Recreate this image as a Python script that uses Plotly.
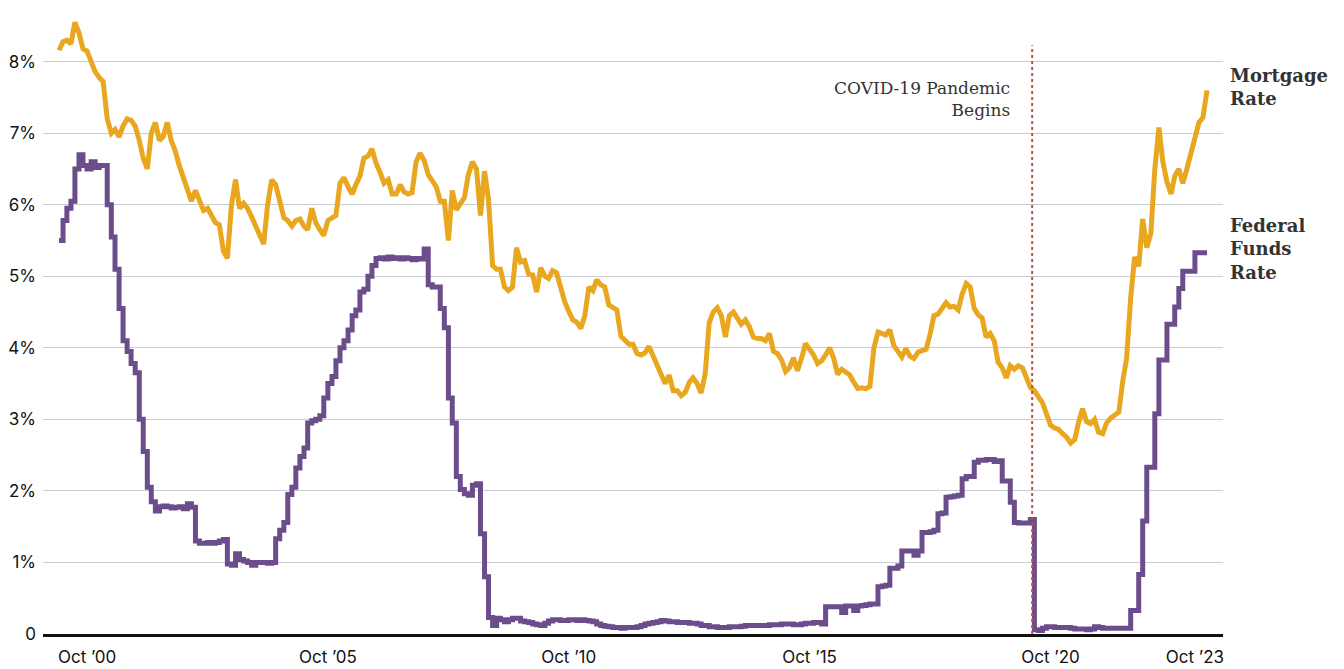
import pandas as pd
import plotly.graph_objects as go

# monthly readings, Jan 2000 .. Nov 2023
months = pd.date_range("2000-01-01", "2023-11-01", freq="MS")

mortgage_rate = [
    8.16, 8.28, 8.30, 8.25, 8.55, 8.40, 8.18, 8.15, 8.00, 7.86, 7.78, 7.72,  # 2000
    7.20, 7.00, 7.05, 6.95, 7.10, 7.20, 7.18, 7.10, 6.90, 6.65, 6.50, 7.00,  # 2001
    7.15, 6.90, 6.95, 7.15, 6.90, 6.75, 6.55, 6.38, 6.22, 6.05, 6.20, 6.05,  # 2002
    5.92, 5.95, 5.85, 5.75, 5.72, 5.35, 5.25, 6.00, 6.35, 5.95, 6.02, 5.95,  # 2003
    5.83, 5.69, 5.60, 5.45, 6.00, 6.35, 6.28, 6.05, 5.82, 5.78, 5.70, 5.78,  # 2004
    5.80, 5.70, 5.65, 5.95, 5.75, 5.65, 5.57, 5.78, 5.82, 5.85, 6.30, 6.38,  # 2005
    6.25, 6.15, 6.28, 6.40, 6.65, 6.68, 6.78, 6.58, 6.45, 6.30, 6.35, 6.15,  # 2006
    6.15, 6.28, 6.18, 6.15, 6.17, 6.60, 6.72, 6.62, 6.42, 6.32, 6.25, 6.05,  # 2007
    6.05, 5.50, 6.20, 5.93, 6.00, 6.10, 6.42, 6.60, 6.50, 5.85, 6.47, 6.07,  # 2008
    5.15, 5.10, 5.10, 4.85, 4.80, 4.85, 5.40, 5.20, 5.22, 5.03, 5.02, 4.78,  # 2009
    5.12, 5.00, 4.97, 5.08, 5.05, 4.83, 4.65, 4.51, 4.39, 4.36, 4.27, 4.45,  # 2010
    4.85, 4.80, 4.95, 4.88, 4.85, 4.60, 4.56, 4.53, 4.16, 4.10, 4.05, 4.05,  # 2011
    3.92, 3.90, 3.93, 4.02, 3.90, 3.74, 3.63, 3.50, 3.62, 3.40, 3.40, 3.33,  # 2012
    3.38, 3.52, 3.58, 3.50, 3.37, 3.64, 4.35, 4.50, 4.56, 4.45, 4.15, 4.45,  # 2013
    4.50, 4.40, 4.33, 4.39, 4.30, 4.15, 4.13, 4.13, 4.10, 4.20, 3.95, 3.92,  # 2014
    3.83, 3.67, 3.72, 3.86, 3.68, 3.85, 4.06, 3.98, 3.90, 3.78, 3.82, 3.90,  # 2015
    4.00, 3.85, 3.63, 3.70, 3.65, 3.62, 3.52, 3.43, 3.44, 3.43, 3.46, 4.00,  # 2016
    4.22, 4.20, 4.18, 4.25, 4.03, 3.95, 3.87, 3.99, 3.88, 3.85, 3.94, 3.96,  # 2017
    3.98, 4.20, 4.45, 4.47, 4.56, 4.63, 4.57, 4.58, 4.53, 4.75, 4.90, 4.85,  # 2018
    4.55, 4.46, 4.42, 4.15, 4.20, 4.10, 3.80, 3.72, 3.58, 3.75, 3.70, 3.75,  # 2019
    3.72, 3.60, 3.45, 3.40, 3.30, 3.23, 3.08, 2.92, 2.88, 2.86, 2.80, 2.75,  # 2020
    2.67, 2.72, 2.95, 3.15, 2.97, 2.94, 3.00, 2.82, 2.80, 2.95, 3.02, 3.05,  # 2021
    3.10, 3.55, 3.85, 4.70, 5.27, 5.14, 5.80, 5.40, 5.60, 6.50, 7.08, 6.60,  # 2022
    6.32, 6.15, 6.40, 6.50, 6.30, 6.50, 6.70, 6.92, 7.15, 7.22, 7.60,        # 2023
]

fed_funds_rate = [
    5.50, 5.78, 5.95, 6.05, 6.50, 6.70, 6.55, 6.50, 6.60, 6.52, 6.55, 6.55,  # 2000
    6.00, 5.55, 5.10, 4.55, 4.10, 3.95, 3.78, 3.65, 3.00, 2.55, 2.05, 1.85,  # 2001
    1.72, 1.78, 1.79, 1.78, 1.76, 1.77, 1.78, 1.75, 1.82, 1.77, 1.30, 1.27,  # 2002
    1.27, 1.28, 1.27, 1.28, 1.30, 1.32, 0.98, 0.96, 1.12, 1.04, 1.02, 1.00,  # 2003
    0.96, 1.00, 1.00, 1.00, 0.99, 1.00, 1.33, 1.45, 1.56, 1.95, 2.05, 2.32,  # 2004
    2.48, 2.60, 2.95, 2.98, 3.00, 3.05, 3.30, 3.50, 3.60, 3.82, 4.00, 4.10,  # 2005
    4.25, 4.45, 4.53, 4.78, 4.82, 5.00, 5.15, 5.25, 5.26, 5.24, 5.27, 5.25,  # 2006
    5.26, 5.24, 5.26, 5.25, 5.23, 5.25, 5.24, 5.38, 4.88, 4.85, 4.85, 4.55,  # 2007
    4.28, 3.30, 2.95, 2.20, 2.02, 1.96, 1.94, 2.08, 2.10, 1.40, 0.80, 0.23,  # 2008
    0.12, 0.22, 0.20, 0.17, 0.20, 0.22, 0.22, 0.18, 0.17, 0.16, 0.14, 0.13,  # 2009
    0.12, 0.15, 0.18, 0.20, 0.20, 0.19, 0.19, 0.20, 0.20, 0.19, 0.20, 0.19,  # 2010
    0.18, 0.17, 0.14, 0.12, 0.11, 0.10, 0.09, 0.09, 0.08, 0.09, 0.09, 0.09,  # 2011
    0.10, 0.12, 0.14, 0.15, 0.16, 0.17, 0.19, 0.18, 0.17, 0.17, 0.16, 0.16,  # 2012
    0.16, 0.15, 0.15, 0.14, 0.12, 0.12, 0.10, 0.10, 0.09, 0.09, 0.09, 0.10,  # 2013
    0.10, 0.10, 0.11, 0.12, 0.12, 0.12, 0.12, 0.12, 0.12, 0.13, 0.13, 0.13,  # 2014
    0.14, 0.14, 0.14, 0.13, 0.13, 0.14, 0.15, 0.15, 0.16, 0.16, 0.14, 0.38,  # 2015
    0.38, 0.38, 0.38, 0.30, 0.39, 0.39, 0.33, 0.39, 0.40, 0.41, 0.42, 0.42,  # 2016
    0.66, 0.67, 0.68, 0.92, 0.92, 0.95, 1.16, 1.16, 1.16, 1.10, 1.16, 1.42,  # 2017
    1.42, 1.43, 1.45, 1.68, 1.69, 1.91, 1.92, 1.93, 1.94, 2.17, 2.20, 2.20,  # 2018
    2.40, 2.43, 2.43, 2.44, 2.44, 2.41, 2.42, 2.14, 2.14, 1.84, 1.56, 1.55,  # 2019
    1.55, 1.55, 1.60, 0.06, 0.05, 0.08, 0.10, 0.10, 0.09, 0.09, 0.09, 0.09,  # 2020
    0.08, 0.07, 0.07, 0.07, 0.06, 0.07, 0.10, 0.09, 0.08, 0.08, 0.08, 0.08,  # 2021
    0.08, 0.08, 0.08, 0.33, 0.33, 0.83, 1.58, 2.33, 2.33, 3.08, 3.83, 3.83,  # 2022
    4.33, 4.33, 4.57, 4.83, 5.07, 5.07, 5.07, 5.33, 5.33, 5.33, 5.33,        # 2023
]

covid_date = "2020-03-15"
tick_dates = ["2000-08-01", "2005-08-01", "2010-08-01", "2015-08-01", "2020-08-01", "2023-08-01"]
tick_labels = ["Oct \u201900", "Oct \u201905", "Oct \u201910", "Oct \u201915", "Oct \u201920", "Oct \u201923"]
y_ticks = [0, 1, 2, 3, 4, 5, 6, 7, 8]
y_labels = ["0", "1%", "2%", "3%", "4%", "5%", "6%", "7%", "8%"]

GOLD = "#E8A71F"
PURPLE = "#6C4D8B"
SERIF = "DejaVu Serif"

fig = go.Figure()
fig.add_trace(go.Scatter(x=months, y=fed_funds_rate, mode="lines", name="Federal Funds Rate",
                         line=dict(color=PURPLE, width=5, shape="hv")))
fig.add_trace(go.Scatter(x=months, y=mortgage_rate, mode="lines", name="Mortgage Rate",
                         line=dict(color=GOLD, width=5)))

# covid marker
fig.add_shape(type="line", x0=covid_date, x1=covid_date, y0=0, y1=8.23,
              xref="x", yref="y", line=dict(color="#D4463C", width=2, dash="dot"))
fig.add_annotation(x=covid_date, y=7.48, xref="x", yref="y", xanchor="right", xshift=-20,
                   text="COVID-19 Pandemic<br>Begins", showarrow=False, align="right",
                   font=dict(family=SERIF, size=17, color="#333333"))

# series labels on the right
fig.add_annotation(x=1, y=7.65, xref="paper", yref="y", xanchor="left", xshift=5,
                   text="<b>Mortgage<br>Rate</b>", showarrow=False, align="left",
                   font=dict(family=SERIF, size=18, color="#333333"))
fig.add_annotation(x=1, y=5.38, xref="paper", yref="y", xanchor="left", xshift=5,
                   text="<b>Federal<br>Funds<br>Rate</b>", showarrow=False, align="left",
                   font=dict(family=SERIF, size=18, color="#333333"))

fig.update_layout(
    width=1344, height=669,
    margin=dict(l=43, r=121, t=8, b=35),
    plot_bgcolor="white", paper_bgcolor="white",
    showlegend=False,
    xaxis=dict(type="date", range=["1999-09-02", "2024-03-01"],
               tickvals=tick_dates, ticktext=tick_labels,
               showgrid=False, zeroline=False, ticks="",
               showline=True, linecolor="#111111", linewidth=3,
               tickfont=dict(family="Inter", size=17, color="#111111"),
               ticklabelstandoff=6, automargin=False),
    yaxis=dict(range=[0, 8.75], tickvals=y_ticks, ticktext=y_labels,
               showgrid=True, gridcolor="#C8CED1", gridwidth=1,
               zeroline=False, ticks="", showline=False,
               tickfont=dict(family="Inter", size=17, color="#111111"),
               ticklabelstandoff=6, automargin=False),
)

# page body has a default margin; drop it so the figure fills the window
fig.write_html("out.html", config={"displayModeBar": False},
               post_script="document.body.style.margin='0';")
